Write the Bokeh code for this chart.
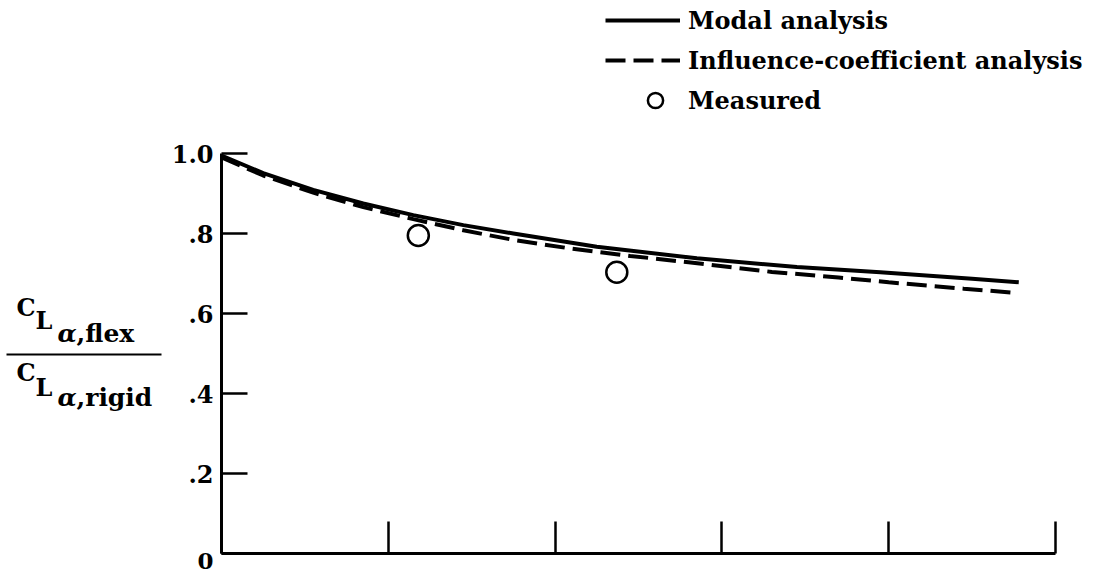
from bokeh.plotting import figure
from bokeh.models import (Range1d, FixedTicker, Legend, LegendItem, Label,
                          BoxAnnotation)
from bokeh.embed import file_html
from bokeh.resources import INLINE

# Lift-curve-slope ratio versus the (unlabelled) abscissa
modal_x = [0.0, 0.25, 0.55, 0.85, 1.15, 1.45, 1.75, 2.25, 2.85, 3.45, 3.95, 4.5, 4.78]
modal_y = [0.995, 0.951, 0.909, 0.875, 0.846, 0.821, 0.800, 0.767, 0.738, 0.716, 0.703, 0.687, 0.678]

influence_x = [0.0, 0.25, 0.55, 0.85, 1.15, 1.45, 1.75, 2.1, 2.45, 2.8, 3.3, 3.7, 4.0, 4.45, 4.75]
influence_y = [0.99, 0.945, 0.902, 0.866, 0.836, 0.808, 0.784, 0.762, 0.744, 0.728, 0.704, 0.690, 0.678, 0.662, 0.652]

measured_x = [1.18, 2.37]
measured_y = [0.795, 0.703]

x_ticks = [0, 1, 2, 3, 4, 5]
y_ticks = [0.0, 0.2, 0.4, 0.6, 0.8, 1.0]
y_tick_labels = ["", ".2", ".4", ".6", ".8", "1.0"]

legend_labels = ["Modal analysis", "Influence-coefficient analysis", "Measured"]

SERIF = "DejaVu Serif"

# The frame fills the canvas; both axes are pinned at the origin
p = figure(width=1105, height=575, output_backend="svg", toolbar_location=None,
           x_range=Range1d(-1.325, 5.30), y_range=Range1d(-0.055, 1.3825),
           min_border_left=0, min_border_right=0, min_border_top=0,
           min_border_bottom=0)
p.outline_line_color = None
p.grid.visible = False
p.background_fill_color = "white"

for ax, bnd, tin in ((p.xaxis[0], (0, 5), 32), (p.yaxis[0], (0, 1), 26)):
    ax.fixed_location = 0
    ax.bounds = bnd
    ax.axis_line_width = 3
    ax.axis_line_color = "black"
    ax.major_tick_line_width = 2.5
    ax.major_tick_in = tin
    ax.major_tick_out = 0
    ax.minor_tick_line_color = None

p.xaxis.ticker = FixedTicker(ticks=x_ticks)
p.xaxis.major_label_overrides = {t: "" for t in x_ticks}
p.xaxis.major_label_text_font_size = "1px"

p.yaxis.ticker = FixedTicker(ticks=y_ticks)
p.yaxis.major_label_overrides = dict(zip(y_ticks, y_tick_labels))
p.yaxis.major_label_text_font = SERIF
p.yaxis.major_label_text_font_style = "bold"
p.yaxis.major_label_text_font_size = "24px"
p.yaxis.major_label_text_color = "black"
p.yaxis.major_label_standoff = 8

r_modal = p.line(modal_x, modal_y, line_color="black", line_width=4,
                 line_join="round")
r_infl = p.line(influence_x, influence_y, line_color="black", line_width=4,
                line_dash="20 8")
r_meas = p.scatter(measured_x, measured_y, marker="circle", size=21,
                   fill_color="white", line_color="black", line_width=2.5)

legend_style = dict(glyph_height=38, label_height=38, spacing=2, padding=0,
                    margin=0, label_standoff=8, border_line_color=None,
                    background_fill_alpha=0, label_text_font=SERIF,
                    label_text_font_style="bold", label_text_font_size="24px",
                    label_text_color="black")

# Line key
p.add_layout(Legend(items=[LegendItem(label=legend_labels[0], renderers=[r_modal]),
                           LegendItem(label=legend_labels[1], renderers=[r_infl])],
                    location=(605, 496), glyph_width=75, **legend_style))
# Symbol key, with the circle centred under the line samples
p.add_layout(Legend(items=[LegendItem(label=legend_labels[2], renderers=[r_meas])],
                    location=(630, 456), glyph_width=50, **legend_style))

def screen_text(text, sx, sy, style="bold", size="24px"):
    p.add_layout(Label(x=sx, y=sy, x_units="screen", y_units="screen", text=text,
                       text_font=SERIF, text_font_style=style,
                       text_font_size=size, text_baseline="alphabetic",
                       text_color="black"))

# Zero label sits a little below the corner
screen_text("0", 197, 15, size="23px")

# Ordinate title: C_L(alpha,flex) over C_L(alpha,rigid)
screen_text("C", 16, 268)
screen_text("L", 35, 255)
screen_text("α", 57, 242, "bold italic", "25px")
screen_text(",flex", 76, 242, size="25px")
screen_text("C", 16, 203)
screen_text("L", 35, 188)
screen_text("α", 57, 178, "bold italic", "25px")
screen_text(",rigid", 76, 178, size="25px")

p.add_layout(BoxAnnotation(left=6, right=161, bottom=220, top=222,
                           left_units="screen", right_units="screen",
                           bottom_units="screen", top_units="screen",
                           fill_color="black", fill_alpha=1.0,
                           line_color=None))

open("out.html", "w").write(file_html(p, INLINE))
